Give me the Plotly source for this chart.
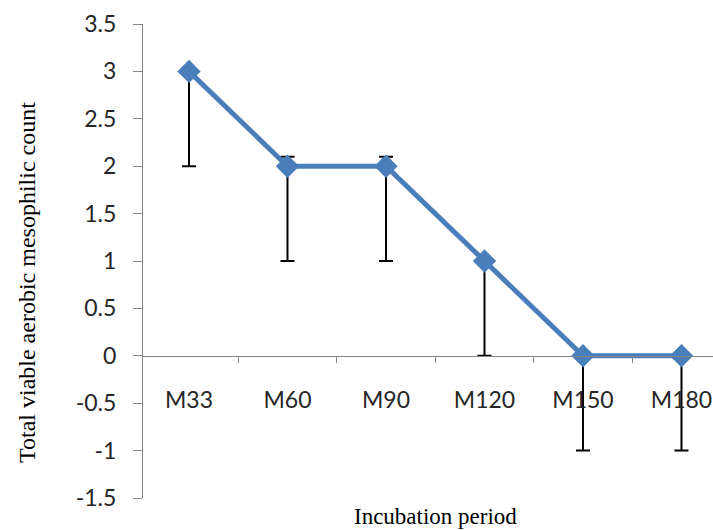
import plotly.graph_objects as go

categories = ["M33", "M60", "M90", "M120", "M150", "M180"]
values = [3, 2, 2, 1, 0, 0]
err_plus = [0, 0.1, 0.1, 0, 0, 0]
err_minus = [1, 1, 1, 1, 1, 1]
y_tickvals = [-1.5, -1, -0.5, 0, 0.5, 1, 1.5, 2, 2.5, 3, 3.5]
y_ticktext = ["-1.5", "-1", "-0.5", "0", "0.5", "1", "1.5", "2", "2.5", "3", "3.5"]

tick_font = dict(family="Lato, Open Sans, sans-serif", size=23, color="#262626")
xtitle_font = dict(family="Liberation Serif, Times New Roman, serif", size=23, color="#000000")
ytitle_font = dict(family="Liberation Serif, Times New Roman, serif", size=24, color="#000000")

W, H = 713, 530
l, r, t, b = 143, 0, 24, 32
pw, ph = W - l - r, H - t - b

fig = go.Figure()
fig.add_trace(go.Scatter(
    x=categories, y=values, mode="lines+markers",
    line=dict(color="#4a7ebb", width=5),
    marker=dict(symbol="diamond", size=18, color="#4a7ebb"),
    error_y=dict(type="data", symmetric=False, array=err_plus, arrayminus=err_minus,
                 color="#000000", thickness=2, width=7),
    showlegend=False,
))

fig.update_layout(
    width=W, height=H,
    margin=dict(l=l, r=r, t=t, b=b, autoexpand=False),
    paper_bgcolor="white", plot_bgcolor="white",
    xaxis=dict(
        type="category", range=[-0.467, 5.32],
        anchor="free", position=0.3, automargin=False,
        showline=True, linecolor="#868686", linewidth=1,
        ticks="outside", tickson="boundaries", ticklen=6, tickcolor="#868686",
        showgrid=False, zeroline=False,
        tickfont=tick_font, ticklabelstandoff=24,
    ),
    yaxis=dict(
        range=[-1.5, 3.5], tickvals=y_tickvals, ticktext=y_ticktext, automargin=False,
        showline=True, linecolor="#868686", linewidth=1,
        ticks="outside", ticklen=9, tickcolor="#868686",
        showgrid=False, zeroline=False,
        tickfont=tick_font, ticklabelstandoff=12,
    ),
    annotations=[
        dict(text="Incubation period", x=(435 - l) / pw, y=(H - b - 516) / ph,
             xref="paper", yref="paper", xanchor="center", yanchor="middle",
             showarrow=False, font=xtitle_font),
        dict(text="Total viable aerobic mesophilic count", x=(27 - l) / pw, y=(H - b - 283) / ph,
             xref="paper", yref="paper", xanchor="center", yanchor="middle",
             textangle=-90, showarrow=False, font=ytitle_font),
    ],
)

fig.write_html("out.html", config={"displayModeBar": False},
               post_script="document.body.style.margin='0';document.body.style.overflow='hidden';")
